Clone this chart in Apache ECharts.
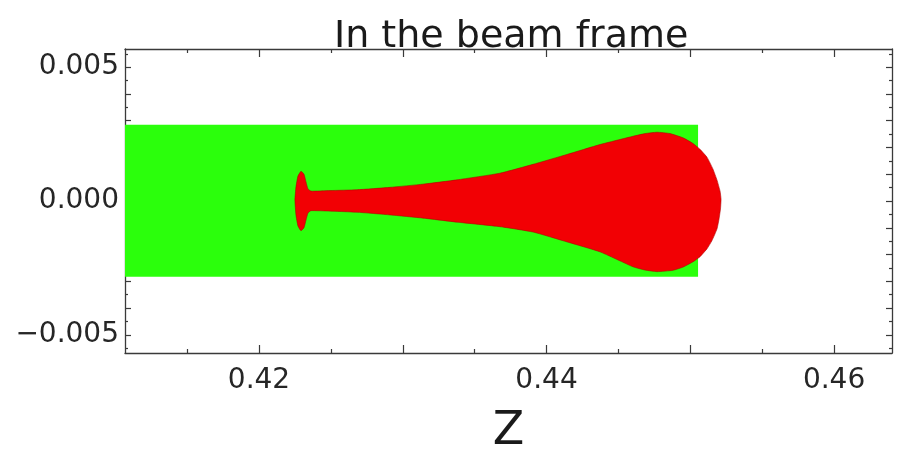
<!DOCTYPE html>
<html>
<head>
<meta charset="utf-8">
<script src="https://cdn.jsdelivr.net/npm/echarts@6/dist/echarts.min.js"></script>
<style>
html,body{margin:0;padding:0;background:#fff;}
#chart{width:904px;height:460px;}
</style>
</head>
<body>
<div id="chart"></div>
<script>
// ---- data ----
const titleText = 'In the beam frame';
const xName = 'Z';
const xMin = 0.41068, xMax = 0.46403;
const yMin = -0.00568, yMax = 0.00568;
const xLabelValues = [0.42, 0.44, 0.46];
const xMajorTicks = [0.42, 0.43, 0.44, 0.45, 0.46];
const xMinorTicks = [0.415, 0.425, 0.435, 0.445, 0.455];
const yLabelValues = [-0.005, 0, 0.005];
const yMajorTicks = [-0.005, -0.004, -0.003, -0.002, -0.001, 0, 0.001, 0.002, 0.003, 0.004, 0.005];
const yMinorTicks = [-0.0055, -0.0045, -0.0035, -0.0025, -0.0015, -0.0005, 0.0005, 0.0015, 0.0025, 0.0035, 0.0045, 0.0055];

// green particle cloud outline (z, y)
const greenZ = [0.41068, 0.45054, 0.45054, 0.41068];
const greenY = [0.00285, 0.00285, -0.00283, -0.00283];

// red particle cloud outline (z, y), clockwise from left tip
const redZ = [0.42250, 0.42257, 0.42271, 0.42292, 0.42313, 0.42327, 0.42341, 0.42362, 0.42494, 0.42682, 0.42911, 0.43141, 0.43377, 0.43677, 0.43906, 0.44143, 0.44372, 0.44602, 0.44685, 0.44769, 0.44859, 0.44950, 0.45019, 0.45068, 0.45117, 0.45158, 0.45186, 0.45207, 0.45214, 0.45210, 0.45200, 0.45186, 0.45151, 0.45117, 0.45068, 0.45019, 0.44950, 0.44880, 0.44769, 0.44685, 0.44602, 0.44372, 0.44143, 0.43906, 0.43677, 0.43377, 0.43141, 0.42911, 0.42682, 0.42362, 0.42341, 0.42327, 0.42313, 0.42292, 0.42271, 0.42257];
const redY = [0.00004, 0.00052, 0.00093, 0.00111, 0.00100, 0.00071, 0.00045, 0.00037, 0.00039, 0.00042, 0.00051, 0.00063, 0.00079, 0.00104, 0.00137, 0.00174, 0.00211, 0.00242, 0.00252, 0.00257, 0.00252, 0.00236, 0.00215, 0.00193, 0.00163, 0.00119, 0.00078, 0.00037, 0.00007, -0.00030, -0.00067, -0.00104, -0.00148, -0.00178, -0.00208, -0.00227, -0.00247, -0.00259, -0.00264, -0.00258, -0.00246, -0.00190, -0.00153, -0.00116, -0.00096, -0.00079, -0.00064, -0.00052, -0.00042, -0.00036, -0.00045, -0.00071, -0.00100, -0.00111, -0.00093, -0.00052];

// ---- styles ----
const GREEN = '#2bff0c';
const RED = '#f20004';
const AXIS = '#3a3a3a';
const FONT = 'DejaVu Sans';

function polySeries(zs, ys, fill, stroke) {
  return {
    type: 'custom',
    coordinateSystem: 'cartesian2d',
    xAxisIndex: 0, yAxisIndex: 0,
    silent: true,
    animation: false,
    data: zs.map((z, i) => [z, ys[i]]),
    renderItem: function (params, api) {
      if (params.dataIndex !== 0) return { type: 'group', children: [] };
      const pts = zs.map((z, i) => api.coord([z, ys[i]]));
      return {
        type: 'polygon',
        shape: { points: pts, smooth: stroke ? 0.15 : 0 },
        style: { fill: fill, stroke: stroke, lineWidth: stroke ? 1 : 0 }
      };
    }
  };
}

function xAx(pos, ticks, len, showLine, labels) {
  return {
    type: 'value', position: pos, min: xMin, max: xMax,
    axisLine: { show: showLine, onZero: false, lineStyle: { color: AXIS, width: 1.3 } },
    axisTick: { show: true, inside: true, length: len, customValues: ticks, lineStyle: { color: AXIS, width: 1.2 } },
    axisLabel: labels ? {
      show: true, customValues: labels, margin: 14,
      fontFamily: FONT, fontSize: 28, color: '#262626',
      formatter: v => v.toFixed(2)
    } : { show: false },
    splitLine: { show: false }
  };
}
function yAx(pos, ticks, len, showLine, labels) {
  return {
    type: 'value', position: pos, min: yMin, max: yMax,
    axisLine: { show: showLine, onZero: false, lineStyle: { color: AXIS, width: 1.3 } },
    axisTick: { show: true, inside: true, length: len, customValues: ticks, lineStyle: { color: AXIS, width: 1.2 } },
    axisLabel: labels ? {
      show: true, customValues: labels, margin: 6,
      fontFamily: FONT, fontSize: 28, color: '#262626',
      formatter: v => (v < -1e-9 ? '\u2212' : '') + Math.abs(v).toFixed(3)
    } : { show: false },
    splitLine: { show: false }
  };
}

const xAxes = [
  xAx('bottom', xMajorTicks, 8, true, xLabelValues),
  xAx('bottom', xMinorTicks, 4, false, null),
  xAx('top', xMajorTicks, 8, true, null),
  xAx('top', xMinorTicks, 4, false, null)
];
xAxes[0].name = xName;
xAxes[0].nameLocation = 'middle';
xAxes[0].nameGap = 56;
xAxes[0].nameTextStyle = { fontFamily: FONT, fontSize: 46, color: '#1a1a1a' };

const yAxes = [
  yAx('left', yMajorTicks, 6, true, yLabelValues),
  yAx('left', yMinorTicks, 3, false, null),
  yAx('right', yMajorTicks, 6, true, null),
  yAx('right', yMinorTicks, 3, false, null)
];

const chart = echarts.init(document.getElementById('chart'), null, { renderer: 'canvas' });
chart.setOption({
  backgroundColor: '#ffffff',
  animation: false,
  title: {
    text: titleText, left: 329, top: 13,
    textStyle: { fontFamily: FONT, fontSize: 38, fontWeight: 'normal', color: '#1a1a1a' }
  },
  grid: { left: 125, right: 12, top: 49, bottom: 105, containLabel: false },
  xAxis: xAxes,
  yAxis: yAxes,
  series: [
    polySeries(greenZ, greenY, GREEN, null),
    polySeries(redZ, redY, RED, 'rgba(170,0,0,0.55)')
  ]
});
</script>
</body>
</html>
